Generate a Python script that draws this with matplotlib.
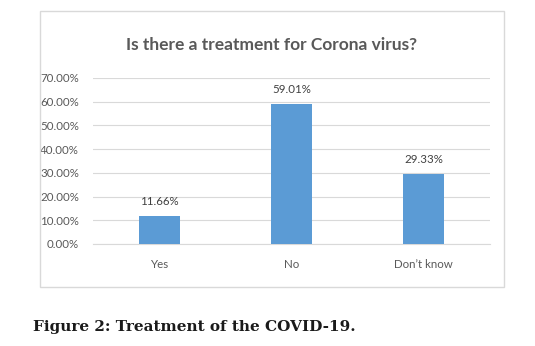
import matplotlib
matplotlib.use("Agg")
import matplotlib.pyplot as plt
from matplotlib.patches import Rectangle
from matplotlib.ticker import FuncFormatter

categories = ["Yes", "No", "Don\u2019t know"]
values = [11.66, 59.01, 29.33]
yticks = [0, 10, 20, 30, 40, 50, 60, 70]

plt.rcParams['font.family'] = ['Lato', 'DejaVu Sans']

fig = plt.figure(figsize=(5.35, 3.46), dpi=100)
fig.patch.set_facecolor('white')

# chart frame
fig.patches.append(Rectangle((40/535, 1-287/346), 464/535, 276/346,
                             transform=fig.transFigure, fill=False,
                             edgecolor='#D9D9D9', linewidth=1.0))

ax = fig.add_axes([93/535, 1-244/346, 397/535, 166/346])
x = range(len(categories))
bars = ax.bar(x, values, width=0.31, color='#5B9BD5', zorder=3)
ax.set_xlim(-0.5, 2.5)
ax.set_ylim(0, 70)
ax.set_yticks(yticks)
ax.yaxis.set_major_formatter(FuncFormatter(lambda v, p: f"{v:.2f}%"))
ax.set_xticks(list(x))
ax.set_xticklabels(categories)
ax.grid(axis='y', color='#D9D9D9', linewidth=0.8, zorder=0)
for s in ['top', 'right', 'left']:
    ax.spines[s].set_visible(False)
ax.spines['bottom'].set_color('#D9D9D9')
ax.tick_params(axis='both', length=0, colors='#595959', labelsize=8.3)
ax.tick_params(axis='x', pad=11)
ax.tick_params(axis='y', pad=10)

for xi, v in zip(x, values):
    ax.text(xi, v + 4, f"{v:.2f}%", ha='center', va='bottom',
            fontsize=8.3, color='#404040')

fig.text(272/535, 1-45/346, "Is there a treatment for Corona virus?",
         ha='center', va='center', fontsize=12.5, fontweight='bold', color='#595959')

fig.text(33/535, 1-327/346, "Figure 2: Treatment of the COVID-19.",
         ha='left', va='center', fontsize=11, fontweight='bold',
         family=['DejaVu Serif'], color='#1a1a1a')

fig.savefig("out.png", dpi=100)
